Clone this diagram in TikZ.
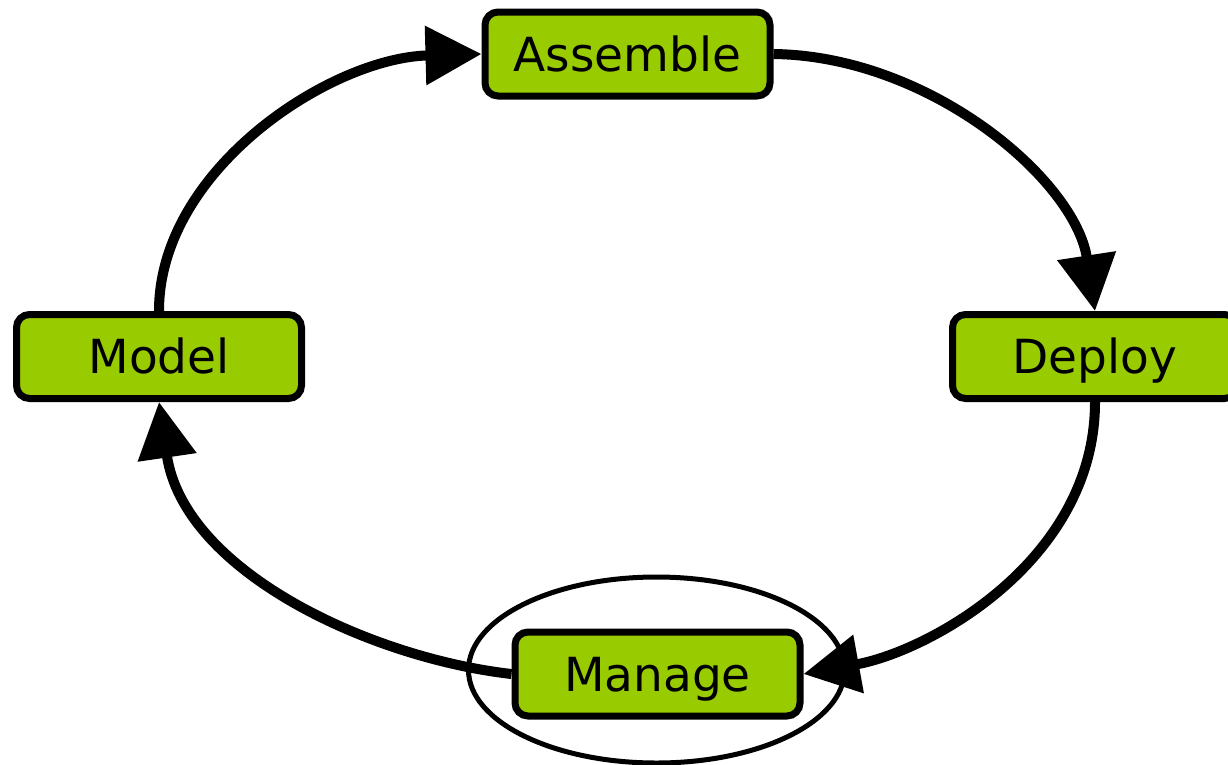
\documentclass[tikz,border=0pt]{standalone}
\usepackage{fontspec}
\setmainfont{DejaVu Sans}
\usetikzlibrary{arrows.meta}
\definecolor{stagegreen}{RGB}{153,204,0}
\begin{document}
\begin{tikzpicture}[x=1pt,y=-1pt,
  stagebox/.style={draw=black, line width=7pt, fill=stagegreen, rounded corners=13pt,
    minimum width=285pt, minimum height=84pt, inner sep=0pt,
    font=\fontsize{47}{56}\selectfont, text height=35pt, text depth=1pt},
  flow/.style={line width=10pt, -{Triangle[length=56pt,width=57pt]}}]
\useasboundingbox (0,0) rectangle (1228,764);
\clip (0,0) rectangle (1228,764);

% the four stages of the cycle
\node[stagebox] (assemble) at (627.5,54) {Assemble};
\node[stagebox] (model)    at (159,356.5) {Model};
\node[stagebox] (deploy)   at (1095,356.5) {Deploy};
\node[stagebox] (manage)   at (657.5,674) {Manage};

% highlight ring around the current stage
\draw[line width=5pt] (656.5,670) ellipse [x radius=188, y radius=93];

% cycle arrows
\draw[flow] (model.north) .. controls (159,170) and (330,58) .. (assemble.west);
\draw[flow] (assemble.east) .. controls (930,56) and (1075,180) .. (deploy.north);
\draw[flow] (deploy.south) .. controls (1095,560) and (930,651) .. (manage.east);
\draw[flow] (manage.west) .. controls (371,658) and (184,572) .. (model.south);
\end{tikzpicture}
\end{document}
